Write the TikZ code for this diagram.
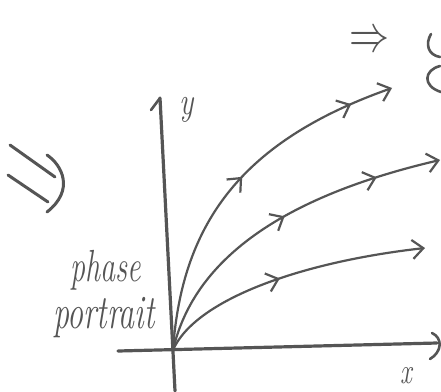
\RequirePackage{fix-cm}
\documentclass[tikz,border=0pt]{standalone}
\usepackage{graphicx}
\usetikzlibrary{arrows.meta,decorations.markings}
\definecolor{inkc}{HTML}{555555}
\begin{document}
\begin{tikzpicture}[x=1pt,y=-1pt,line cap=round,line join=round,
  ink/.style={draw=inkc,line width=2.2pt},
  axisline/.style={draw=inkc,line width=3.2pt},
  barbtip/.tip={Straight Barb[length=11pt,width=19pt,line width=2.2pt]},
  flow/.style={ink,-barbtip,postaction={decorate}},
  lbl/.style={text=inkc,inner sep=0pt,font=\fontsize{30}{30}\selectfont\itshape}]
\useasboundingbox (0,0) rectangle (441,391);
\fill[white] (0,0) rectangle (441,391);
% axes
\coordinate (O) at (173,350);
\coordinate (ytop) at (160,98);
\coordinate (ybot) at (175,391);
\coordinate (xl) at (118,351);
\coordinate (xr) at (437,343);
\coordinate (yb) at (151,110);
\draw[axisline] (ybot) -- (ytop);
\draw[axisline] (xl) -- (xr);
\draw[ink,line width=2.6pt] (ytop) -- (yb);
\coordinate (xh1) at (432,333);
\coordinate (xh2) at (430,359);
\draw[ink,line width=2.6pt] (xh1) .. controls (443,338) and (442,352) .. (xh2);
% trajectories
\coordinate (c1) at (392,88);
\coordinate (c2) at (440,160);
\coordinate (c3) at (425,248);
\draw[flow,decoration={markings,
   mark=at position 0.52 with {\arrow{barbtip}},
   mark=at position 0.88 with {\arrow{barbtip}}}]
  (O) .. controls (182,220) and (245,140) .. (c1);
\draw[flow,decoration={markings,
   mark=at position 0.52 with {\arrow{barbtip}},
   mark=at position 0.81 with {\arrow{barbtip}}}]
  (O) .. controls (195,255) and (290,195) .. (c2);
\draw[flow,decoration={markings,
   mark=at position 0.47 with {\arrow{barbtip}}}]
  (O) .. controls (195,300) and (300,262) .. (c3);
% labels
\node[lbl,font=\fontsize{30}{30}\selectfont\itshape] (ylab) at (187,110) {\scalebox{1}[1.3]{y}};
\node[lbl,font=\fontsize{26}{26}\selectfont\itshape] (xlab) at (406,376) {\scalebox{1}[1.4]{x}};
\node[lbl] (phase) at (106,270) {\scalebox{1}[1.5]{phase}};
\node[lbl,font=\fontsize{32}{32}\selectfont\itshape] (portrait) at (104,318) {\scalebox{1}[1.5]{portrait}};
\node[lbl,font=\fontsize{40}{40}\selectfont] (impl) at (369,42) {\scalebox{1}[1.3]{$\Rightarrow$}};
% partial strokes at top right edge
\draw[ink,line width=2.6pt] (431,34) .. controls (425,44) and (428,55) .. (440,57);
\draw[ink,line width=2.6pt] (440,66) .. controls (424,70) and (422,86) .. (441,92);
% left double arrow
\coordinate (d1a) at (10,145);
\coordinate (d1b) at (55,177);
\coordinate (d2a) at (8,175);
\coordinate (d2b) at (48,202);
\draw[ink,line width=3pt] (d1a) -- (d1b);
\draw[ink,line width=3pt] (d2a) -- (d2b);
\coordinate (h1) at (47,155);
\coordinate (h2) at (47,212);
\draw[ink,line width=3pt] (h1) .. controls (62,165) and (75,190) .. (h2);
\end{tikzpicture}
\end{document}
